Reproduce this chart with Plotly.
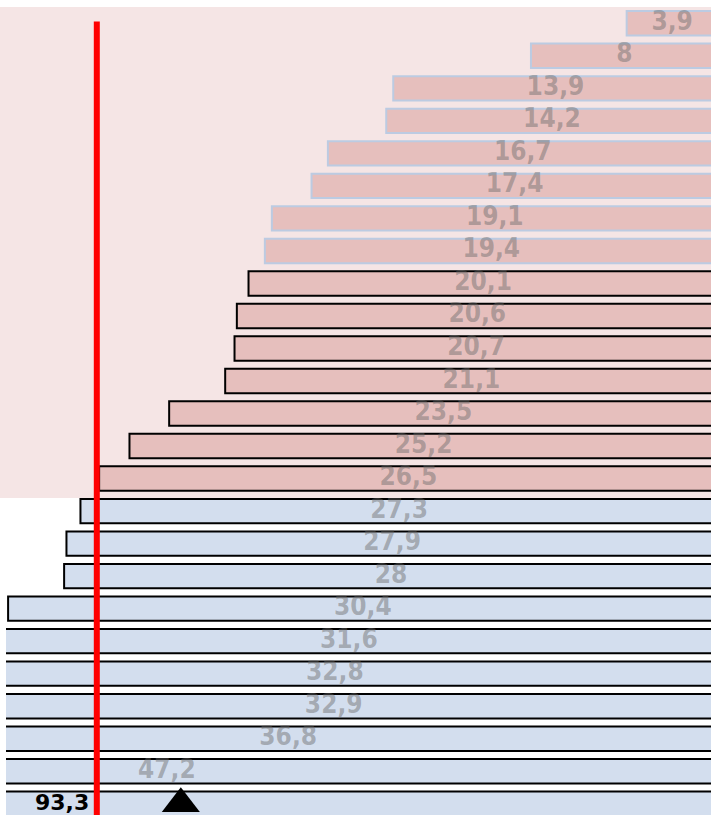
import plotly.graph_objects as go

# ---- data ----
values = [3.9, 8, 13.9, 14.2, 16.7, 17.4, 19.1, 19.4, 20.1, 20.6, 20.7, 21.1,
          23.5, 25.2, 26.5, 27.3, 27.9, 28, 30.4, 31.6, 32.8, 32.9, 36.8, 47.2, 93.3]
groups = ["high"] * 15 + ["low"] * 10          # pink group / blue group
outlined = [False] * 8 + [True] * 17           # black outline vs light outline
threshold = 26.6                               # red reference line
marker_value = 23.0                            # black triangle

X_MAX = 30.49                                  # visible axis extent (reversed)
n = len(values)
rows = list(range(n))
labels = [f"{v:g}".replace(".", ",") for v in values]
# labels whose bar centre falls outside the visible axis are shown separately
inner_pts = [(v / 2, r, t) for v, r, t in zip(values, rows, labels) if v / 2 < X_MAX]
clipped = [(r, t) for v, r, t in zip(values, rows, labels) if v / 2 >= X_MAX]

fill = {"high": "#e6bfbd", "low": "#d3deee"}
bar_colors = [fill[g] for g in groups]
line_colors = ["#000000" if o else "#bccbe2" for o in outlined]

fig = go.Figure()

fig.add_trace(go.Bar(
    x=values, y=rows, orientation="h", base=0,
    marker=dict(color=bar_colors, line=dict(color=line_colors, width=2)),
    width=0.75, hoverinfo="skip", showlegend=False,
))

fig.add_trace(go.Scatter(
    x=[p[0] for p in inner_pts], y=[p[1] for p in inner_pts],
    mode="text", text=[p[2] for p in inner_pts],
    textposition="middle center", cliponaxis=True,
    textfont=dict(family="DejaVu Sans Condensed, Open Sans, sans-serif",
                  size=26, color="rgba(105,105,105,0.45)", weight="bold"),
    hoverinfo="skip", showlegend=False,
))

fig.add_trace(go.Scatter(
    x=[marker_value], y=[rows[-1]], mode="markers",
    marker=dict(symbol="triangle-up", size=33, color="black"),
    cliponaxis=False, hoverinfo="skip", showlegend=False,
))

# pink shaded zone for the "high" group
n_high = groups.count("high")
fig.add_shape(type="rect", xref="paper", yref="y",
              x0=-0.0086, x1=1, y0=-0.5, y1=n_high - 0.4,
              fillcolor="#f5e5e5", line_width=0, layer="below")

# red reference line
fig.add_shape(type="line", xref="x", yref="y",
              x0=threshold, x1=threshold, y0=-0.055, y1=n + 1,
              line=dict(color="#ff0000", width=6), layer="above")

# value labels of clipped bars
for r, t in clipped:
    fig.add_annotation(xref="paper", yref="y", x=0.0794, y=r,
                       text=f"<b>{t}</b>", showarrow=False,
                       xanchor="center", yanchor="middle", yshift=1,
                       font=dict(family="DejaVu Sans, sans-serif",
                                 size=22, color="black"))

fig.update_layout(
    width=711, height=815,
    margin=dict(l=6, r=0, t=0, b=0),
    paper_bgcolor="white", plot_bgcolor="white",
    xaxis=dict(range=[X_MAX, 0.287], showgrid=False, zeroline=False,
               showticklabels=False, showline=False, fixedrange=True),
    yaxis=dict(range=[24.346, -0.7165], showgrid=False, zeroline=False,
               showticklabels=False, showline=False, fixedrange=True),
    bargap=0.25,
)

fig.write_html(
    "out.html",
    config={"displayModeBar": False},
    post_script="document.body.style.margin='0';document.body.style.overflow='hidden';",
)
